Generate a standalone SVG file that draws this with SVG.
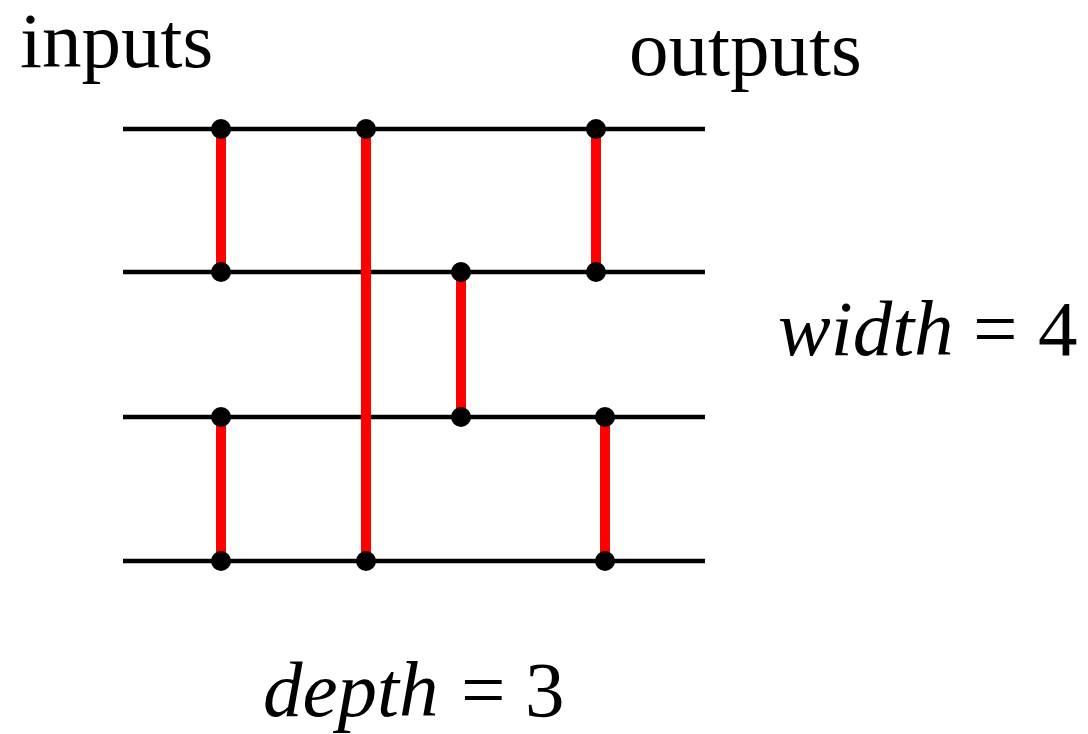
<svg xmlns="http://www.w3.org/2000/svg" width="1088" height="734" viewBox="0 0 1088 734">
<style>
.wire{stroke:#000;stroke-width:4.5;fill:none}
.cmp{stroke:#f00;stroke-width:10;fill:none}
.dot{fill:#000}
.t{font-family:"Liberation Serif","Times New Roman",serif;font-size:79px;fill:#000}
.i{font-style:italic}
</style>
<rect width="1088" height="734" fill="#fff"/>
<g id="wires">
<line class="wire" x1="123" y1="129" x2="705" y2="129"/>
<line class="wire" x1="123" y1="272" x2="705" y2="272"/>
<line class="wire" x1="123" y1="417" x2="705" y2="417"/>
<line class="wire" x1="123" y1="561" x2="705" y2="561"/>
</g>
<g id="connectors">
<line class="cmp" x1="221" y1="129" x2="221" y2="272"/>
<line class="cmp" x1="366" y1="129" x2="366" y2="561"/>
<line class="cmp" x1="596" y1="129" x2="596" y2="272"/>
<line class="cmp" x1="461" y1="272" x2="461" y2="417"/>
<line class="cmp" x1="221" y1="417" x2="221" y2="561"/>
<line class="cmp" x1="605" y1="417" x2="605" y2="561"/>
</g>
<g id="dots">
<circle class="dot" cx="221" cy="129" r="10"/>
<circle class="dot" cx="221" cy="272" r="10"/>
<circle class="dot" cx="366" cy="129" r="10"/>
<circle class="dot" cx="366" cy="561" r="10"/>
<circle class="dot" cx="596" cy="129" r="10"/>
<circle class="dot" cx="596" cy="272" r="10"/>
<circle class="dot" cx="461" cy="272" r="10"/>
<circle class="dot" cx="461" cy="417" r="10"/>
<circle class="dot" cx="221" cy="417" r="10"/>
<circle class="dot" cx="221" cy="561" r="10"/>
<circle class="dot" cx="605" cy="417" r="10"/>
<circle class="dot" cx="605" cy="561" r="10"/>
</g>
<g id="labels">
<text class="t" x="20" y="67">inputs</text>
<text class="t" x="629" y="75">outputs</text>
<text class="t i" x="778" y="355">width</text>
<text class="t" x="973" y="355">=</text>
<text class="t" x="1038" y="355">4</text>
<text class="t i" x="263" y="716">depth</text>
<text class="t" x="461" y="716">=</text>
<text class="t" x="525" y="716">3</text>
</g>
</svg>
